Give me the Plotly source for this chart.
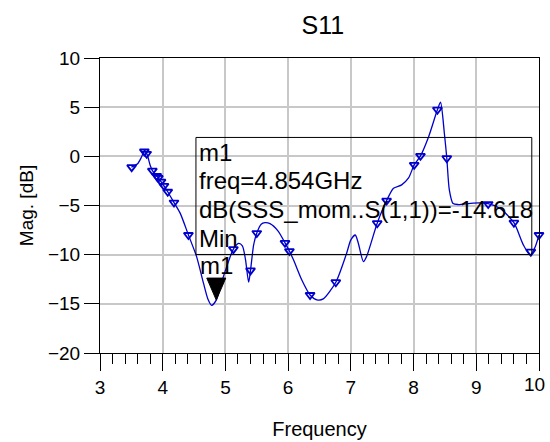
import plotly.graph_objects as go

# ---- data ----
curve_freq = [3.50, 3.60, 3.66, 3.71, 3.75, 3.80, 3.835, 3.87, 3.904, 3.93, 3.973, 4.02, 4.08,
              4.18, 4.28, 4.41, 4.54, 4.65, 4.72, 4.78, 4.854, 4.93, 5.00, 5.127, 5.21, 5.27,
              5.32, 5.37, 5.40, 5.45, 5.50, 5.57, 5.63, 5.71, 5.84, 5.95, 6.02, 6.09, 6.22,
              6.35, 6.46, 6.56, 6.76, 6.93, 7.00, 7.07, 7.12, 7.20, 7.25, 7.42, 7.57, 7.68,
              7.81, 7.92, 8.01, 8.11, 8.24, 8.38, 8.43, 8.49, 8.53, 8.57, 8.63, 8.71, 8.95,
              9.19, 9.38, 9.60, 9.75, 9.86, 9.94, 10.0]
curve_db = [-1.10, -0.75, -0.1, 0.6, 0.2, -0.9, -1.45, -1.75, -2.0, -2.2, -2.57, -3.0, -3.6,
            -4.7, -5.8, -8.0, -10.2, -12.9, -14.5, -15.15, -14.62, -13.0, -11.6, -9.44, -8.86, -9.1,
            -10.5, -12.8, -11.6, -9.0, -7.8, -6.9, -6.75, -6.85, -7.6, -8.8, -9.64, -10.6, -12.6,
            -14.1, -14.6, -14.5, -12.8, -9.9, -8.5, -8.0, -8.86, -10.7, -10.2, -6.8, -4.5, -3.25,
            -2.9, -2.2, -0.87, 0.05, 2.0, 4.74, 5.5, 2.4, -0.19, -3.4, -4.8, -4.9, -4.75,
            -4.8, -5.3, -6.75, -9.0, -10.05, -9.2, -8.0]

marker_freq = [3.505, 3.707, 3.744, 3.835, 3.904, 3.93, 3.973, 4.02, 4.08, 4.18, 4.41,
               5.127, 5.40, 5.50, 5.95, 6.02, 6.35, 6.76, 7.42, 7.57, 8.01, 8.11, 8.38,
               8.53, 9.19, 9.60, 9.87, 10.0]
marker_db = [-1.10, 0.49, 0.26, -1.45, -2.0, -2.2, -2.57, -3.0, -3.6, -4.7, -8.0,
             -9.44, -11.6, -7.8, -8.8, -9.64, -14.1, -12.8, -6.8, -4.5, -0.87, 0.05, 4.74,
             -0.19, -4.85, -6.75, -9.7, -8.0]

m1_name = "m1"
m1_freq = 4.854
m1_db = -14.618
readout_lines = ["m1", "freq=4.854GHz", "dB(SSS_mom..S(1,1))=-14.618", "Min"]
readout_y = [0.36, -2.45, -5.41, -8.37]
box_x = [4.53, 9.885]
box_y = [1.92, -9.98]

x_ticks = [3, 4, 5, 6, 7, 8, 9, 10]
x_ticktext = ["3", "4", "5", "6", "7", "8", "9", ""]   # last label drawn separately, kept inside the page
x_last_label = "10"
y_ticks = [-20, -15, -10, -5, 0, 5, 10]

BLUE = "#0000cc"
FONT = "Liberation Sans, Arial, sans-serif"

fig = go.Figure()
fig.add_trace(go.Scatter(x=curve_freq, y=curve_db, mode="lines",
                         line=dict(color=BLUE, width=1.3, shape="spline", smoothing=0.7),
                         hoverinfo="skip", showlegend=False, cliponaxis=False))
fig.add_trace(go.Scatter(x=marker_freq, y=marker_db, mode="markers",
                         marker=dict(symbol="triangle-down-open", size=8, color=BLUE,
                                     line=dict(width=1.8, color=BLUE)),
                         showlegend=False, cliponaxis=False))

# readout box
fig.add_shape(type="rect", xref="x", yref="y", x0=box_x[0], x1=box_x[1], y0=box_y[0], y1=box_y[1],
              line=dict(color="black", width=1), fillcolor="rgba(0,0,0,0)", layer="above")

for txt, yy in zip(readout_lines, readout_y):
    fig.add_annotation(x=box_x[0], y=yy, xref="x", yref="y", text=txt, showarrow=False,
                       xanchor="left", yanchor="middle", xshift=1,
                       font=dict(family=FONT, size=24, color="black"))

# marker m1: filled triangle with tip on the point, label above
fig.add_shape(type="path", xref="x", yref="y", xsizemode="pixel", ysizemode="pixel",
              xanchor=m1_freq, yanchor=m1_db,
              path="M -9.5 22 L 9.5 22 L 0 0 Z", fillcolor="black", line=dict(color="black", width=1),
              layer="above")
fig.add_annotation(x=m1_freq, y=m1_db, xref="x", yref="y", text=m1_name, showarrow=False,
                   xanchor="center", yanchor="bottom", yshift=19,
                   font=dict(family=FONT, size=24, color="black"))

# last x tick label, shifted left like the reference so it stays inside the page
fig.add_annotation(x=x_ticks[-1], y=0, xref="x", yref="paper", text=x_last_label, showarrow=False,
                   xanchor="right", yanchor="top", xshift=8, yshift=-19,
                   font=dict(family=FONT, size=19, color="black"))

fig.update_layout(
    width=550, height=442,
    margin=dict(l=100, r=11, t=58, b=89, autoexpand=False),
    paper_bgcolor="white", plot_bgcolor="white",
    title=dict(text="S11", x=0.587, xanchor="center", y=0.944, yanchor="middle",
               font=dict(family=FONT, size=25, color="black")),
    font=dict(family=FONT, color="black"),
    showlegend=False,
)
fig.update_xaxes(range=[3, 10], tickvals=x_ticks, ticktext=x_ticktext, ticks="outside", ticklen=17,
                 tickwidth=1, tickcolor="black", showline=True, linecolor="black", linewidth=1,
                 mirror=True, showgrid=True, gridcolor="#c8c8c8", gridwidth=1.5, zeroline=False,
                 automargin=False, tickfont=dict(family=FONT, size=19, color="black"),
                 minor=dict(dtick=0.2, ticks="outside", ticklen=10, tickcolor="black", showgrid=False),
                 title=dict(text="Frequency", font=dict(family=FONT, size=20, color="black"), standoff=25))
fig.update_yaxes(range=[-20, 10], tickvals=y_ticks, ticks="outside", ticklen=15, tickwidth=1,
                 tickcolor="black", showline=True, linecolor="black", linewidth=1, mirror=True,
                 showgrid=True, gridcolor="#c8c8c8", gridwidth=1.5, zeroline=False, automargin=False,
                 tickfont=dict(family=FONT, size=19, color="black"),
                 title=dict(text="Mag. [dB]", font=dict(family=FONT, size=19, color="black"), standoff=9))

# the page's default 8px body margin would push the 550x442 figure out of the 550x442 window
fig.write_html("out.html", config={"displayModeBar": False},
               post_script="document.body.style.margin='0';document.body.style.overflow='hidden';")
